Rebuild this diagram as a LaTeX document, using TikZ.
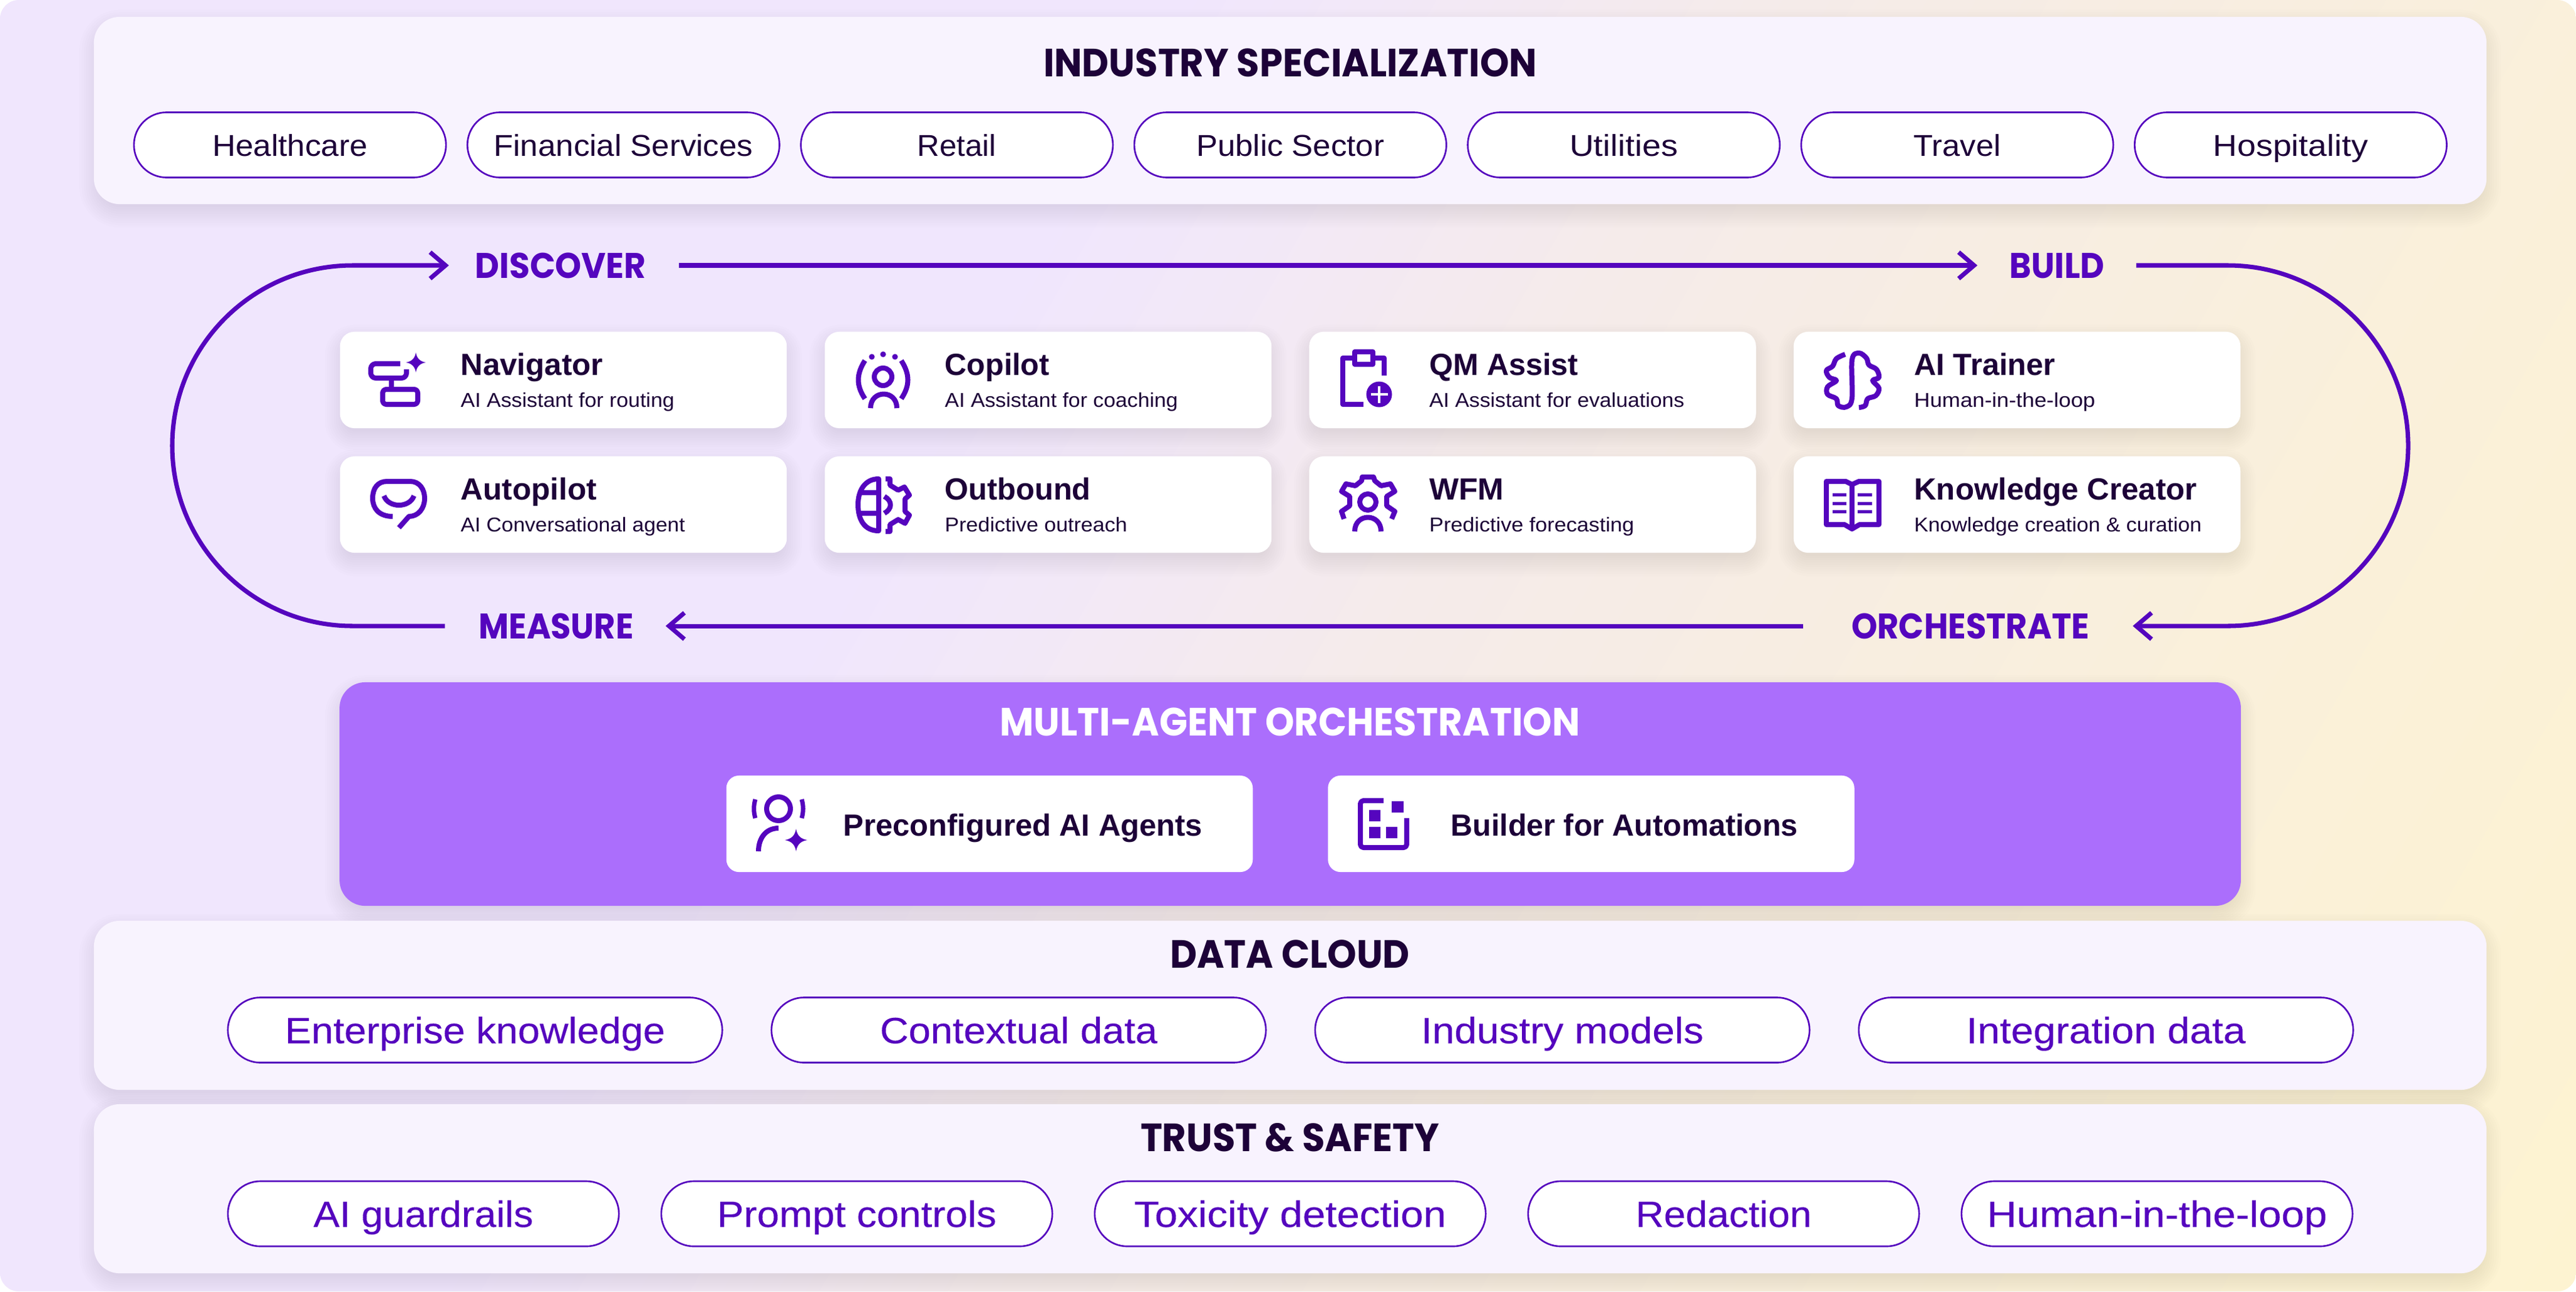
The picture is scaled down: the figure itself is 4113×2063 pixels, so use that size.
\documentclass[tikz,border=0pt]{standalone}
\usepackage{fontspec}
\usepackage{graphicx}
\usetikzlibrary{arrows.meta}
\setmainfont{Liberation Sans}
\newfontfamily\headf{Poppins}
\newfontfamily\medf[FakeBold=0.2]{Liberation Sans}
\definecolor{ink}{HTML}{1D0238}
\definecolor{icon}{HTML}{5505BE}
\definecolor{violet}{HTML}{AB6EFC}
\definecolor{panelc}{HTML}{F8F3FE}
\definecolor{bgA}{HTML}{F0E6FD}
\definecolor{bgB}{HTML}{F2E8F8}
\definecolor{bgC}{HTML}{F5EBEA}
\definecolor{bgD}{HTML}{F7EDE2}
\definecolor{bgE}{HTML}{FAF0DA}
\definecolor{bgF}{HTML}{FDF3D1}
\pgfdeclarehorizontalshading{bgshade}{100bp}{color(0bp)=(bgA); color(40bp)=(bgA); color(44bp)=(bgB); color(52bp)=(bgC); color(60bp)=(bgD); color(70bp)=(bgE); color(84bp)=(bgF); color(100bp)=(bgF)}
\newlength\pxu
\setlength\pxu{0.01cm}
\newcommand\fw[2]{\resizebox{#1\pxu}{\height}{#2}}
\newcommand\softshadow[5]{%
  \foreach \k in {0,...,9}{%
    \pgfmathsetmacro\e{-8+\k*3.6}%
    \pgfmathsetmacro\rr{max(#5+\e,2)*0.01}%
    \fill[black,opacity=.0095,rounded corners=\rr cm] ({#1-\e},{#2-\e+13}) rectangle ({#3+\e},{#4+\e+13});
  }}
\tikzset{
  panel/.style={fill=panelc,rounded corners=.41cm,inner sep=0pt,minimum width=38.18cm},
  violetbox/.style={fill=violet,rounded corners=.41cm,inner sep=0pt,minimum width=30.34cm,minimum height=3.57cm},
  card/.style={fill=white,rounded corners=.23cm,inner sep=0pt,minimum width=7.13cm,minimum height=1.54cm},
  widecard/.style={fill=white,rounded corners=.2cm,inner sep=0pt,minimum width=8.4cm,minimum height=1.54cm},
  cardtitle/.style={inner sep=0pt,text=ink,font=\fontsize{13.9pt}{14pt}\selectfont\bfseries},
  cardsub/.style={inner sep=0pt,text=ink,font=\fontsize{9.1pt}{10pt}\selectfont},
  heading/.style={inner sep=0pt,text=ink,font=\fontsize{17.9pt}{18pt}\headf\bfseries},
  flowlabel/.style={inner sep=0pt,text=icon,text height=.4cm,text depth=0cm,font=\fontsize{16.2pt}{17pt}\headf\bfseries},
  pill/.style={draw=icon,fill=white,line width=.75pt,rounded corners=.52cm,inner sep=0pt,minimum height=1.04cm},
  indpill/.style={pill,minimum width=4.98cm,text=ink,text height=.36cm,text depth=.01cm,font=\fontsize{13.7pt}{14pt}\selectfont},
  datapill/.style={pill,minimum width=7.89cm,text=icon,text height=.43cm,text depth=.01cm,font=\fontsize{16.6pt}{17pt}\medf},
  trustpill/.style={pill,minimum width=6.24cm,text=icon,text height=.43cm,text depth=.01cm,font=\fontsize{16.6pt}{17pt}\medf},
  flow/.style={draw=icon,line width=2pt},
  tip/.style={-{Straight Barb[length=7pt,width=12pt]}},
  ico/.style={draw=icon,line width=.08cm,line join=round},
  icof/.style={fill=icon},
}
\newcommand\aistar[3]{\fill[icof] ({#1},{#2-#3}) .. controls ({#1+.1*#3},{#2-.4*#3}) and ({#1+.4*#3},{#2-.1*#3}) .. ({#1+#3},{#2}) .. controls ({#1+.4*#3},{#2+.1*#3}) and ({#1+.1*#3},{#2+.4*#3}) .. ({#1},{#2+#3}) .. controls ({#1-.1*#3},{#2+.4*#3}) and ({#1-.4*#3},{#2+.1*#3}) .. ({#1-#3},{#2}) .. controls ({#1-.4*#3},{#2-.1*#3}) and ({#1-.1*#3},{#2-.4*#3}) .. cycle;}
% name, centre x, centre y, text x, title, title width, subtitle, subtitle width
\newcommand\agentcard[8]{%
  \softshadow{#2-356.5}{#3-77}{#2+356.5}{#3+77}{23}%
  \node[card] (#1) at (#2,#3) {};
  \node[cardtitle,anchor=base west] (#1t) at (#4,{#3-8}) {\fw{#6}{#5}};
  \node[cardsub,anchor=base west] (#1s) at (#4,{#3+43}) {\fw{#8}{#7}};
}
\begin{document}
\begin{tikzpicture}[x=0.01cm,y=-0.01cm]
\useasboundingbox (0,0) rectangle (4113,2063);
\fill[white] (0,0) rectangle (4113,2063);
\shade[shading=bgshade,shading angle=-30,rounded corners=.3cm] (0,0) rectangle (4113,2063);

% top panel
\softshadow{151}{27}{3969}{326}{41}
\node[panel,minimum height=2.99cm] (industry) at (2060,176.5) {};
\node[heading,anchor=base] (industryt) at (2060,122.5) {\fw{788}{INDUSTRY SPECIALIZATION}};
\node[indpill] (i1) at (463,231.5) {\fw{248}{Healthcare}};
\node[indpill] (i2) at (995.4,231.5) {\fw{414}{Financial Services}};
\node[indpill] (i3) at (1527.8,231.5) {\fw{126}{Retail}};
\node[indpill] (i4) at (2060.2,231.5) {\fw{300}{Public Sector}};
\node[indpill] (i5) at (2592.6,231.5) {\fw{173}{Utilities}};
\node[indpill] (i6) at (3125,231.5) {\fw{139}{Travel}};
\node[indpill] (i7) at (3657.4,231.5) {\fw{247}{Hospitality}};

% flow labels
\node[flowlabel] (discover) at (895,424) {\fw{273}{DISCOVER}};
\node[flowlabel] (build) at (3284,424) {\fw{152}{BUILD}};
\node[flowlabel] (orchestrate) at (3146,1000) {\fw{380}{ORCHESTRATE}};
\node[flowlabel] (measure) at (888,1000) {\fw{247}{MEASURE}};

% flow connectors
\draw[flow,tip] ([xshift=.515cm]discover.east) -- ([xshift=-.5cm]build.west);
\draw[flow,tip] ([xshift=-.76cm]orchestrate.west) -- ([xshift=.505cm]measure.east);
\coordinate (lbot) at (563,1000);
\coordinate (rtop) at (3557,424);
\draw[flow,tip] ([xshift=-.535cm]measure.west) -- (lbot) arc (90:270:288) -- ([xshift=-.41cm]discover.west);
\draw[flow,tip] ([xshift=.5cm]build.east) -- (rtop) arc (270:450:288) -- ([xshift=.685cm]orchestrate.east);

% agent cards
\agentcard{navigator}{899.5}{607}{735}{Navigator}{227}{AI Assistant for routing}{341}
\agentcard{copilot}{1673.5}{607}{1508}{Copilot}{167}{AI Assistant for coaching}{372}
\agentcard{qm}{2447}{607}{2281.5}{QM Assist}{238}{AI Assistant for evaluations}{407}
\agentcard{trainer}{3220.5}{607}{3055.6}{AI Trainer}{225.5}{Human-in-the-loop}{289}
\agentcard{autopilot}{899.5}{806}{735}{Autopilot}{217}{AI Conversational agent}{358}
\agentcard{outbound}{1673.5}{806}{1508}{Outbound}{233}{Predictive outreach}{291}
\agentcard{wfm}{2447}{806}{2281.5}{WFM}{119}{Predictive forecasting}{327}
\agentcard{creator}{3220.5}{806}{3055.6}{Knowledge Creator}{451.5}{Knowledge creation \& curation}{459}

% Navigator icon
\draw[ico,rounded corners=.08cm] (639,581) -- (592,581) -- (592,604) -- (649,604) -- (649,590);
\draw[ico] (625,608) -- (625,618);
\draw[ico,rounded corners=.06cm] (611,622) rectangle (667,646);
\aistar{664}{579}{16}
% Autopilot icon
\draw[ico] (627,825) .. controls (605,825) and (595,812) .. (595,796) .. controls (595,780) and (603,769) .. (618,769) -- (655,769) .. controls (670,769) and (678,782) .. (678,796) .. controls (678,812) and (668,825) .. (653,825) -- (637,843);
\draw[ico] (613,792) .. controls (620,812) and (654,812) .. (661,792);
% Copilot icon
\fill[icof] (1392,570) circle (4.6) (1410,566) circle (4.6) (1429,570) circle (4.6);
\draw[ico] (1410,602) circle (14);
\draw[ico] (1390,652) .. controls (1390,622) and (1432,622) .. (1432,652);
\draw[ico] (1381,576) .. controls (1367,598) and (1367,616) .. (1381,637);
\draw[ico] (1439,576) .. controls (1453,598) and (1453,616) .. (1439,637);
% Outbound icon
\draw[ico] (1403,765) .. controls (1380,765) and (1370,785) .. (1370,806) .. controls (1370,830) and (1380,848) .. (1403,848) -- cycle;
\draw[ico] (1370,787) -- (1403,787) (1370,820) -- (1403,820);
\draw[ico] (1414,765) -- (1421,765) -- (1421,775) -- (1434,783) -- (1444,778) -- (1452,791) -- (1445,797) -- (1445,817) -- (1452,823) -- (1445,836) -- (1434,830) -- (1421,838) -- (1421,849) -- (1414,849);
\draw[ico] (1412,793) .. controls (1425,800) and (1425,813) .. (1412,820);
% QM Assist icon
\draw[ico] (2210,600) -- (2210,572) -- (2144,572) -- (2144,646) -- (2177,646);
\draw[ico,fill=white] (2163,562) rectangle (2192,582);
\fill[icof] (2202,630) circle (20.5);
\draw[draw=white,line width=.04cm] (2188.5,630) -- (2215.5,630) (2202,616.5) -- (2202,643.5);
% WFM icon
\draw[ico] (2146,829) -- (2142,817) -- (2155,808) -- (2155,793) -- (2142,785) -- (2149,773) -- (2164,776) -- (2174,768) -- (2175,762) -- (2193,762) -- (2195,768) -- (2205,776) -- (2220,773) -- (2227,785) -- (2214,793) -- (2214,808) -- (2227,817) -- (2222,829);
\draw[ico] (2184,802) circle (13);
\draw[ico] (2163,849) .. controls (2163,819) and (2205,819) .. (2205,849);
% AI Trainer icon
\draw[ico] plot[smooth,tension=.6] coordinates {(2946,566) (2932,573) (2926,585) (2916,592) (2921,603) (2932,608) (2918,618) (2918,630) (2932,637) (2935,648) (2948,650) (2957,636) (2957,575) (2968,564) (2980,572) (2984,583) (2996,590) (3000,603) (2990,608) (3000,620) (2995,632) (2982,637) (2978,648) (2968,651)};
% Knowledge Creator icon
\draw[ico] (2916,769) -- (2947,769) -- (2957,774) -- (2968,769) -- (3000,769) -- (3000,838) -- (2969,838) -- (2957,845) -- (2945,838) -- (2916,838) -- cycle;
\draw[ico] (2957,774) -- (2957,842);
\draw[draw=icon,line width=.05cm] (2926,790) -- (2948,790) (2926,804) -- (2948,804) (2926,817) -- (2948,817) (2966,790) -- (2989,790) (2966,804) -- (2989,804) (2966,817) -- (2989,817);

% multi-agent box
\softshadow{543}{1090}{3577}{1447}{41}
\node[violetbox] (multi) at (2060,1268.5) {};
\node[heading,text=white,anchor=base] (multit) at (2059.5,1175) {\fw{926}{MULTI-AGENT ORCHESTRATION}};
\node[widecard] (pre) at (1580,1316) {};
\node[widecard] (bld) at (2540.5,1316) {};
\node[cardtitle,anchor=base west] (pret) at (1346,1335) {\fw{573}{Preconfigured AI Agents}};
\node[cardtitle,anchor=base west] (bldt) at (2316,1335) {\fw{554}{Builder for Automations}};
% Preconfigured icon
\draw[ico] (1243,1292) circle (19);
\draw[ico,line width=.07cm] (1206,1277) .. controls (1203,1287) and (1203,1297) .. (1206,1307);
\draw[ico,line width=.07cm] (1280,1277) .. controls (1283,1287) and (1283,1297) .. (1280,1307);
\draw[ico] (1243,1323) .. controls (1222,1323) and (1211,1340) .. (1211,1360);
\aistar{1271}{1342}{18}
% Builder icon
\draw[ico,rounded corners=.05cm] (2209,1279) -- (2172,1279) -- (2172,1354) -- (2246,1354) -- (2246,1307);
\fill[icof] (2222,1280) rectangle (2241,1298) (2186,1294) rectangle (2204,1312) (2186,1321) rectangle (2204,1339) (2213,1321) rectangle (2231,1339);

% data cloud
\softshadow{151}{1471}{3969}{1741}{41}
\node[panel,minimum height=2.7cm] (data) at (2060,1606) {};
\node[heading,anchor=base] (datat) at (2059.5,1546) {\fw{383}{DATA CLOUD}};
\node[datapill] (d1) at (758.5,1645.5) {\fw{607}{Enterprise knowledge}};
\node[datapill] (d2) at (1626.5,1645.5) {\fw{443}{Contextual data}};
\node[datapill] (d3) at (2494.5,1645.5) {\fw{451}{Industry models}};
\node[datapill] (d4) at (3362.5,1645.5) {\fw{446}{Integration data}};

% trust
\softshadow{151}{1764}{3969}{2034}{41}
\node[panel,minimum height=2.7cm] (trust) at (2060,1899) {};
\node[heading,anchor=base] (trustt) at (2059.5,1839) {\fw{477}{TRUST \& SAFETY}};
\node[trustpill] (t1) at (676,1939) {\fw{351}{AI guardrails}};
\node[trustpill] (t2) at (1368,1939) {\fw{446}{Prompt controls}};
\node[trustpill] (t3) at (2060,1939) {\fw{498}{Toxicity detection}};
\node[trustpill] (t4) at (2752,1939) {\fw{281}{Redaction}};
\node[trustpill] (t5) at (3444,1939) {\fw{543}{Human-in-the-loop}};
\end{tikzpicture}
\end{document}
